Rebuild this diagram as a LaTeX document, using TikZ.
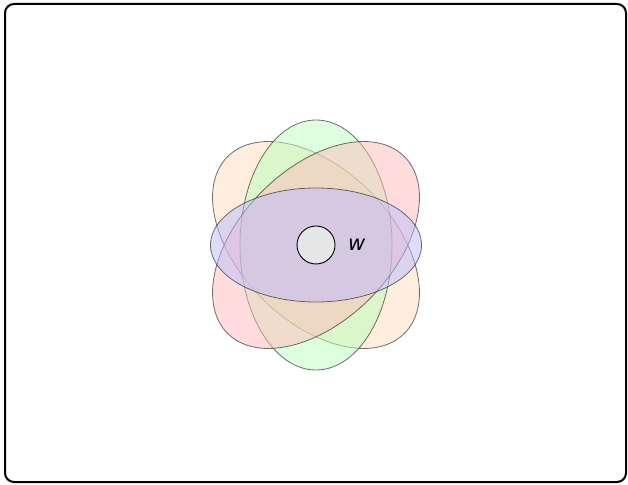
\documentclass[tikz,border=0pt]{standalone}
\usepackage{fontspec}
\setsansfont{DejaVu Sans}
\usetikzlibrary{positioning,shapes.geometric}

\definecolor{petalorange}{RGB}{255,221,187}
\definecolor{petalred}{RGB}{255,187,187}
\definecolor{petalgreen}{RGB}{187,255,187}
\definecolor{petalblue}{RGB}{187,187,255}
\definecolor{coregray}{RGB}{230,230,230}

\begin{document}
\begin{tikzpicture}[
  x=1pt, y=1pt,
  every node/.style={inner sep=0pt, outer sep=0pt},
  petal/.style={ellipse, draw=black!80, draw opacity=0.7, line width=0.8pt, fill opacity=0.5},
  core/.style={circle, draw=black, line width=0.9pt, fill=coregray, minimum size=38pt},
  lbl/.style={font=\sffamily\itshape\fontsize{21}{25}\selectfont}
]
\useasboundingbox (0,0) rectangle (628,484);
\draw[line width=2pt, rounded corners=9pt] (5,2) rectangle (626,480);

% four overlapping petals round w
\node[petal, fill=petalorange, minimum width=250pt, minimum height=152pt, rotate=-45] (orange) at (316,239) {};
\node[petal, fill=petalgreen, minimum width=152pt, minimum height=250pt] (green) at (316,239) {};
\node[petal, fill=petalred, minimum width=250pt, minimum height=152pt, rotate=45] (red) at (316,239) {};
\node[petal, fill=petalblue, minimum width=211pt, minimum height=114pt] (blue) at (316,239) {};

\node[core] (w) at (316,239) {};
\node[lbl, right=13pt of w] (wlabel) {w};
\end{tikzpicture}
\end{document}
